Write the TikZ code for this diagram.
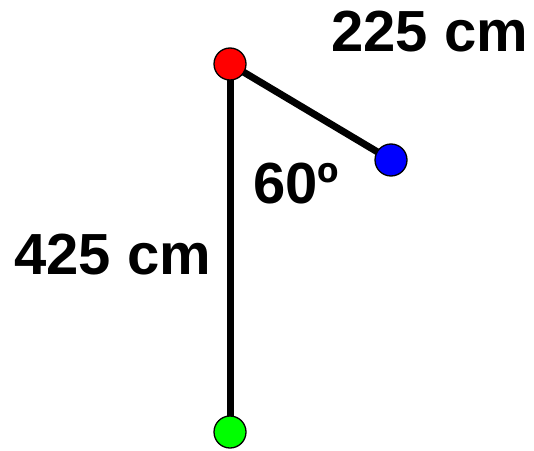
\documentclass[tikz,border=0pt]{standalone}
\usepackage{fontspec}
\setmainfont{Liberation Sans}
\begin{document}
\begin{tikzpicture}[x=1pt,y=1pt,
  dot/.style={circle,draw=black,line width=1.3pt,minimum size=32pt,inner sep=0pt},
  bar/.style={line width=7pt,black},
  lbl/.style={anchor=base west,inner sep=0pt,font=\fontsize{58}{62}\selectfont\bfseries}]
\useasboundingbox (0,0) rectangle (534,450);
\coordinate (r) at (230,386);
\coordinate (b) at (391,290);
\coordinate (g) at (230,18);
\draw[bar] (r) -- (g);
\draw[bar] (r) -- (b);
\node[dot,fill={rgb,255:red,255;green,0;blue,0}] (R) at (r) {};
\node[dot,fill={rgb,255:red,0;green,0;blue,255}] (B) at (b) {};
\node[dot,fill={rgb,255:red,0;green,255;blue,0}] (G) at (g) {};
\node[lbl] (t1) at (331,398) {225 cm};
\node[lbl] (t2) at (14,176) {425 cm};
\node[lbl] (t3) at (253,247) {60º};
\end{tikzpicture}
\end{document}
